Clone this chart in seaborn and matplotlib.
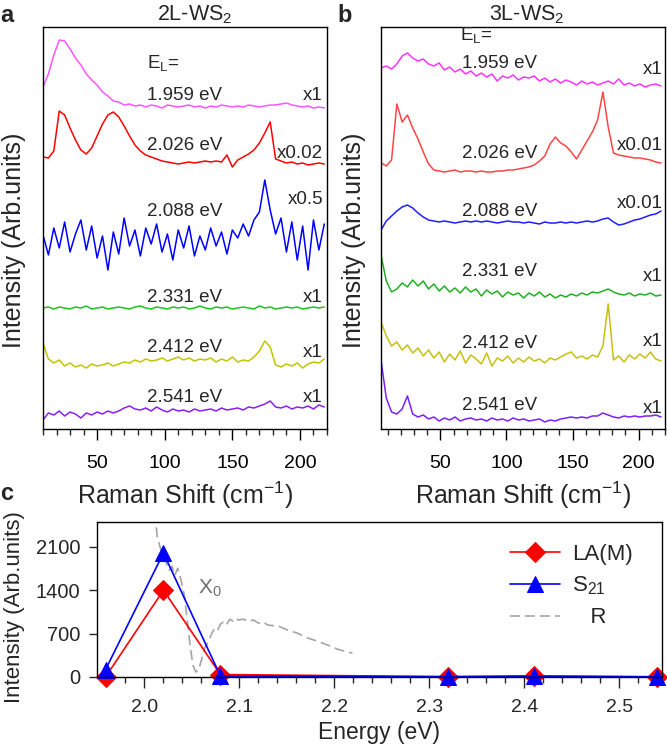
import numpy as np
import matplotlib
matplotlib.use("Agg")
import matplotlib.pyplot as plt
from matplotlib.ticker import MultipleLocator
import seaborn as sns

# Raman shift grids (cm-1)
shift_2l = np.arange(10, 219, 4)
shift_3l = np.arange(5, 218, 4)

# 2L-WS2 spectra (arb. units, relative to each trace's own baseline)
int_2l_1959 = [20, 33, 52, 67, 66, 58, 49, 42, 33, 27,
               22, 15, 11, 6, 5, 2, 3, 1, 2, 0,
               2, 1, -1, 2, 1, 0, 1, 2, 0, 1,
               -1, 1, 0, 2, 1, 0, 1, 0, 2, 1,
               0, 1, 2, 2, 3, 4, 2, 1, 0, 1,
               -1, 0, -1]
int_2l_2026 = [6, 5, 12, 52, 48, 35, 23, 13, 9, 15,
               27, 39, 48, 51, 46, 37, 27, 18, 12, 8,
               6, 4, 2, 1, 0, -1, 0, 1, 0, 1,
               2, 1, 2, 1, 8, -4, 3, 6, 9, 13,
               20, 30, 41, 4, 2, 0, 1, -1, 0, -2,
               -1, 0, -1]
int_2l_2088 = [5, -15, 12, -8, 18, -12, 6, 20, -10, 14,
               -18, 4, -30, 8, -14, 22, -6, 10, -16, 12,
               -4, 16, -12, 6, -20, 10, -8, 14, -16, 4,
               -10, 12, -6, 8, -14, 10, 2, 16, 4, 20,
               28, 60, 30, 6, 22, -12, 18, -20, 14, -30,
               20, -10, 16]
int_2l_2331 = [0, 1, -1, 1, 0, -1, 1, 0, 2, -1,
               0, 1, -1, 0, 1, 0, -1, 1, 2, 0,
               -1, 1, 0, -1, 1, 0, 1, -1, 0, 2,
               0, -1, 1, 0, 1, -1, 0, 1, 0, -1,
               2, 0, 1, -1, 0, 1, 0, 1, -1, 0,
               1, 0, 1]
int_2l_2412 = [22, 6, 2, 5, -1, 2, -2, 0, -3, 1,
               -1, 0, 2, -1, 1, 3, 2, 5, 3, 6,
               4, 5, 7, 4, 6, 8, 5, 7, 4, 6,
               5, 7, 3, 6, 4, 8, 3, 5, 4, 8,
               14, 24, 18, 0, -2, 1, -1, 2, -3, 1,
               3, 2, 6]
int_2l_2541 = [-10, -3, -5, -1, -6, -2, -4, -8, -3, -5,
               -2, -4, -1, -3, -1, 2, 4, 1, 0, 2,
               -1, 3, 0, -2, 1, -1, 0, -2, 1, -1,
               0, 1, -1, 2, 0, 1, 2, 0, 3, 2,
               4, 6, 9, 3, 2, 4, 1, 3, 2, 4,
               1, 5, 3]

# 3L-WS2 spectra
int_3l_1959 = [18, 20, 17, 22, 30, 33, 28, 25, 27, 22,
               20, 23, 16, 19, 14, 17, 12, 15, 10, 13,
               9, 12, 5, 10, 8, 11, 6, 9, 8, 10,
               5, 8, 4, 7, 3, 6, 4, 1, 5, 2,
               4, 1, 3, 5, 2, 7, 1, 3, 0, 2,
               -1, 1, 2, 0]
int_3l_2026 = [9, 6, 12, 68, 50, 57, 44, 33, 20, 8,
               2, 1, 0, 1, 2, 0, 1, 1, 0, 1,
               0, 0, 1, 1, 2, 2, 3, 4, 5, 7,
               11, 16, 28, 35, 29, 26, 20, 13, 22, 31,
               40, 52, 80, 45, 19, 17, 16, 15, 14, 14,
               13, 12, 10, 9]
int_3l_2088 = [-8, 1, 6, 11, 15, 17, 14, 9, 5, 2,
               1, 0, 1, 0, -1, 0, 1, 0, 1, 0,
               1, 0, -1, 0, 1, 0, 0, -1, 0, -1,
               -2, 0, -1, -1, 0, -1, 0, -1, 0, 1,
               0, 1, 3, 4, 0, -3, -2, 0, 2, 3,
               5, 7, 8, 11]
int_3l_2331 = [40, 14, 3, 6, 12, 8, 15, 9, 14, 6,
               11, 4, 9, 3, 7, 2, 8, 3, 6, -1,
               5, 1, 4, -2, 3, 0, 2, -3, 2, -1,
               3, -2, 1, -3, 0, -2, 1, -1, 2, 0,
               3, 2, 4, 6, 3, 1, 0, 2, -1, 1,
               0, 2, -1, 0]
int_3l_2412 = [38, 24, 14, 18, 10, 15, 7, 12, 4, 10,
               2, 8, -2, 6, 0, 9, -3, 5, 1, -4,
               7, -6, 2, -1, 4, -3, 2, -2, 3, -1,
               1, -3, 2, 0, 3, 6, 8, 2, 4, 1,
               5, 3, 14, 56, 0, 4, -2, 5, 1, 6,
               2, 8, 1, -1]
int_3l_2541 = [60, 22, 8, 6, 11, 24, 6, 3, 5, 1,
               3, -1, 2, 0, 3, -1, 1, 2, 0, 1,
               -1, 2, 0, 1, -1, 2, 0, 1, -1, 0,
               1, -2, 0, -1, 1, 2, 3, 2, 3, 2,
               4, 4, 7, 5, 3, 2, 4, 3, 4, 3,
               4, 4, 5, 3]

laser_labels = ['1.959 eV', '2.026 eV', '2.088 eV', '2.331 eV', '2.412 eV', '2.541 eV']
scale_2l = ['x1', 'x0.02', 'x0.5', 'x1', 'x1', 'x1']
scale_3l = ['x1', 'x0.01', 'x0.01', 'x1', 'x1', 'x1']

# panel c: peak intensity vs laser energy
energy = [1.959, 2.02, 2.08, 2.32, 2.41, 2.54]
la_m = [0, 1400, 40, 5, 20, 0]
s21 = [120, 2000, 15, 5, 10, 5]
r_energy = [2.0125, 2.0135, 2.019, 2.023, 2.026, 2.029, 2.032, 2.035, 2.0385, 2.042,
            2.045, 2.048, 2.051, 2.054, 2.057, 2.060, 2.0635, 2.068, 2.071, 2.074,
            2.077, 2.080, 2.083, 2.086, 2.090, 2.093, 2.096, 2.099, 2.104, 2.109,
            2.115, 2.120, 2.125, 2.130, 2.141, 2.151, 2.161, 2.172, 2.182, 2.193,
            2.203, 2.214, 2.219]
r_intensity = [2414, 2253, 1963, 1834, 1722, 1786, 1641, 1754, 1561, 1319,
               917, 515, 193, 80, 113, 274, 467, 595, 708, 788,
               756, 853, 885, 837, 933, 901, 949, 917, 933, 901,
               917, 869, 885, 837, 821, 756, 708, 628, 579, 515,
               450, 402, 386]

# ---------------------------------------------------------------- style
sns.set_theme(style='ticks')
plt.rcParams['font.family'] = ['Liberation Sans', 'DejaVu Sans']
plt.rcParams['mathtext.fontset'] = 'custom'
plt.rcParams['mathtext.rm'] = 'Liberation Sans'
plt.rcParams['mathtext.it'] = 'Liberation Sans:italic'
plt.rcParams['axes.linewidth'] = 1.0
plt.rcParams['axes.edgecolor'] = 'black'

W, H = 667, 750
fig = plt.figure(figsize=(W / 100, H / 100), dpi=100)


def box(l, t, r, b):
    return [l / W, 1 - b / H, (r - l) / W, (b - t) / H]


def ftext(px, py, s, **kw):
    fig.text(px / W, 1 - py / H, s, **kw)


ax_a = fig.add_axes(box(43, 27, 327, 429))
ax_b = fig.add_axes(box(381, 27, 665, 429))
ax_c = fig.add_axes(box(97, 522, 662, 677))

spectra_2l = [int_2l_1959, int_2l_2026, int_2l_2088, int_2l_2331, int_2l_2412, int_2l_2541]
spectra_3l = [int_3l_1959, int_3l_2026, int_3l_2088, int_3l_2331, int_3l_2412, int_3l_2541]
colors_2l = ['#FF55FF', '#FF0000', '#0000FF', '#1EC41E', '#C4C400', '#8A1EFF']
colors_3l = ['#FF33FF', '#FF4545', '#1E1EFF', '#22B022', '#C8C010', '#7B1FFF']
base_2l = [322, 266, 189, 121, 64, 19]
base_3l = [343, 257, 207, 134, 69, 9]

for ax, shift, spectra, cols, bases in [(ax_a, shift_2l, spectra_2l, colors_2l, base_2l),
                                        (ax_b, shift_3l, spectra_3l, colors_3l, base_3l)]:
    for vals, c, b in zip(spectra, cols, bases):
        sns.lineplot(x=shift, y=np.array(vals) + b, ax=ax, color=c, lw=1.1, legend=False)
    ax.set_ylim(0, 402)
    ax.set_yticks([])
    ax.xaxis.set_major_locator(MultipleLocator(50))
    ax.xaxis.set_minor_locator(MultipleLocator(10))
    ax.tick_params(axis='x', which='major', length=8, width=1, direction='out', pad=11,
                   labelsize=14, colors='black')
    ax.tick_params(axis='x', which='minor', length=4.5, width=1, direction='out')
    ax.set_xlabel('Raman Shift (cm$^\\mathregular{-1}$)', fontsize=18)
    ax.set_ylabel('Intensity (Arb.units)', fontsize=18)
    ax.xaxis.set_label_coords(0.5, -0.125)
    for sp in ax.spines.values():
        sp.set_color('black')

ax_a.set_xlim(10, 220)
ax_b.set_xlim(5, 220)
ax_a.yaxis.set_label_coords(-0.06, 0.47)
ax_b.yaxis.set_label_coords(-0.053, 0.47)

# annotations panel a
ftext(147, 63, 'E$_\\mathregular{L}$=', fontsize=13.5, va='center')
for lab, y in zip(laser_labels, [96, 145, 212, 297, 347, 397]):
    ftext(147, y, lab, fontsize=13.5, va='center')
for lab, y in zip(scale_2l, [96, 153, 200, 297, 352, 397]):
    ftext(323, y, lab, fontsize=13.5, va='center', ha='right')
# annotations panel b
ftext(460, 35, 'E$_\\mathregular{L}$=', fontsize=13.5, va='center')
for lab, y in zip(laser_labels, [63, 153, 212, 272, 343, 405]):
    ftext(462, y, lab, fontsize=13.5, va='center')
for lab, y in zip(scale_3l, [70, 145, 203, 277, 342, 408]):
    ftext(663, y, lab, fontsize=13.5, va='center', ha='right')

ftext(195, 15, '2L-WS$_\\mathregular{2}$', fontsize=15.5, ha='center', va='center')
ftext(527, 15, '3L-WS$_\\mathregular{2}$', fontsize=15.5, ha='center', va='center')
ftext(0, 16, 'a', fontsize=17, fontweight='bold', va='center')
ftext(337, 16, 'b', fontsize=17, fontweight='bold', va='center')
ftext(0, 493, 'c', fontsize=17, fontweight='bold', va='center')

# ---------------------------------------------------------------- panel c
sns.lineplot(x=r_energy, y=r_intensity, ax=ax_c, color='#A5A5A5', lw=1.2, label='R')
ax_c.lines[-1].set_dashes([6, 3])
sns.lineplot(x=energy, y=la_m, ax=ax_c, color='#FF0000', lw=1.2, marker='D', markersize=10,
             markeredgecolor='#FF0000', label='LA(M)', clip_on=False)
sns.lineplot(x=energy, y=s21, ax=ax_c, color='#0000FF', lw=1.2, marker='^', markersize=11,
             markeredgecolor='#0000FF', label='S21', clip_on=False)
handles, labels = ax_c.get_legend_handles_labels()
hmap = dict(zip(labels, handles))
ax_c.legend([hmap['LA(M)'], hmap['S21'], hmap['R']],
            ['LA(M)', 'S$_\\mathregular{21}$', '   R'],
            frameon=False, loc='upper left', bbox_to_anchor=(0.731, 0.86),
            borderpad=0, borderaxespad=0, handlelength=2.25, handletextpad=0.55,
            labelspacing=0.45, fontsize=16)
ax_c.set_xlim(1.95, 2.545)
ax_c.set_ylim(0, 2500)
ax_c.set_yticks([0, 700, 1400, 2100])
ax_c.xaxis.set_major_locator(MultipleLocator(0.1))
ax_c.xaxis.set_minor_locator(MultipleLocator(0.02))
ax_c.tick_params(axis='x', which='major', length=8, width=1, direction='out', pad=8, labelsize=14)
ax_c.tick_params(axis='x', which='minor', length=4.5, width=1, direction='out')
ax_c.tick_params(axis='y', which='major', length=6, width=1, direction='out', pad=6, labelsize=14.5)
ax_c.set_xlabel('Energy (eV)', fontsize=16.5)
ax_c.set_ylabel('Intensity (Arb.units)', fontsize=16)
ax_c.xaxis.set_label_coords(0.5, -0.285)
ax_c.yaxis.set_label_coords(-0.128, 0.45)
for sp in ax_c.spines.values():
    sp.set_color('black')
ftext(198, 588, 'X$_\\mathregular{0}$', fontsize=15, color='#6E6E6E', va='center')

fig.savefig('out.png', dpi=100)
